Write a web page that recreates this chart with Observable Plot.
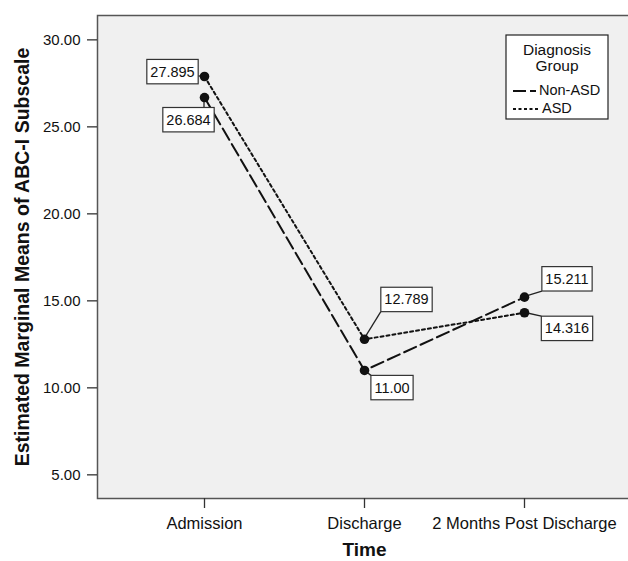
<!DOCTYPE html>
<html><head><meta charset="utf-8">
<script src="https://cdn.jsdelivr.net/npm/d3@7"></script>
<script src="https://cdn.jsdelivr.net/npm/@observablehq/plot@0.6"></script>
<style>
body{margin:0;background:#fff;}
#chart{position:relative;width:628px;height:561px;}
</style></head><body><div id="chart"></div>
<script>
const times = ["Admission", "Discharge", "2 Months Post Discharge"];
const groups = ["Non-ASD", "ASD"];
const nonAsd = [26.684, 11.00, 15.211];
const asd = [27.895, 12.789, 14.316];
const nonAsdLabels = ["26.684", "11.00", "15.211"];
const asdLabels = ["27.895", "12.789", "14.316"];
const yTicks = [5, 10, 15, 20, 25, 30];
const yDomain = [3.64, 31.40];
const legendTitle = ["Diagnosis", "Group"];

// label box offsets (px) relative to the point
const nonAsdOffsets = [[-16, 22.5], [27.5, 17.5], [42.5, -18]];
const asdOffsets = [[-32, -4.5], [42, -39.5], [42.5, 16]];

const FONT = "'Liberation Sans', Arial, sans-serif";

const data = [];
times.forEach((t, i) => {
  data.push({time: t, group: groups[0], value: nonAsd[i], label: nonAsdLabels[i], ox: nonAsdOffsets[i][0], oy: nonAsdOffsets[i][1]});
  data.push({time: t, group: groups[1], value: asd[i], label: asdLabels[i], ox: asdOffsets[i][0], oy: asdOffsets[i][1]});
});

const labelMarks = data.map((d, i) => Plot.text([d], {
  x: "time", y: "value", text: "label", dx: d.ox, dy: d.oy,
  fontSize: 14.5, fill: "#111", className: "vlabel vlabel-" + i
}));

const chart = Plot.plot({
  width: 628,
  height: 561,
  marginLeft: 97,
  marginRight: -3,
  marginTop: 15,
  marginBottom: 63,
  style: {fontFamily: FONT, fontSize: "15px", color: "#111", background: "#fff"},
  x: {type: "point", domain: times, padding: 0.66},
  y: {domain: yDomain},
  marks: [
    Plot.frame({fill: "#f0f0f0", stroke: "#555", strokeWidth: 1.5}),
    Plot.axisX({tickSize: 10, tickPadding: 9, fontSize: 16.5, label: null, stroke: "#333", strokeWidth: 1.3}),
    Plot.axisY({ticks: yTicks, tickFormat: d3.format(".2f"), tickSize: 10, tickPadding: 7, fontSize: 15, label: null, stroke: "#333", strokeWidth: 1.3}),
    Plot.line(data.filter(d => d.group === "Non-ASD"), {x: "time", y: "value", stroke: "#111", strokeWidth: 2, strokeDasharray: "13,5"}),
    Plot.line(data.filter(d => d.group === "ASD"), {x: "time", y: "value", stroke: "#111", strokeWidth: 2, strokeDasharray: "3,3"}),
    Plot.dot(data, {x: "time", y: "value", r: 4.8, fill: "#111", stroke: "none", className: "pts"}),
    ...labelMarks,
    Plot.text(["Estimated Marginal Means of ABC-I Subscale"], {frameAnchor: "left", textAnchor: "middle", rotate: -90, dx: -75, fontSize: 19.5, fontWeight: "bold", fill: "#111"}),
    Plot.text(["Time"], {frameAnchor: "bottom", lineAnchor: "middle", dy: 51, fontSize: 19, fontWeight: "bold", fill: "#111"})
  ]
});

document.getElementById("chart").appendChild(chart);

// boxes around value labels, with leader lines to points
const svg = d3.select(chart);
const sx = chart.scale("x"), sy = chart.scale("y");
const svgRect = chart.getBoundingClientRect();
const leaders = svg.insert("g", ".pts");
const boxes = svg.insert("g", ".vlabel");
data.forEach((d, i) => {
  const g = chart.querySelector(".vlabel-" + i);
  const t = g.querySelector("text");
  const b = t.getBoundingClientRect();
  const padX = 3.5, padY = 4.2;
  const x0 = b.left - svgRect.left - padX, y0 = b.top - svgRect.top - padY;
  const w = b.width + 2 * padX, h = b.height + 2 * padY;
  boxes.append("rect")
    .attr("x", x0).attr("y", y0).attr("width", w).attr("height", h)
    .attr("fill", "#fff").attr("stroke", "#333").attr("stroke-width", 1.2);
  const px = sx.apply(d.time), py = sy.apply(d.value);
  const nx = Math.max(x0, Math.min(x0 + w, px));
  const ny = Math.max(y0, Math.min(y0 + h, py));
  leaders.append("line").attr("x1", px).attr("y1", py).attr("x2", nx).attr("y2", ny)
    .attr("stroke", "#222").attr("stroke-width", 1.3);
});

// legend
const lg = svg.append("g").attr("transform", "translate(506,35)").style("font-family", FONT);
lg.append("rect").attr("width", 102).attr("height", 84).attr("fill", "#fff").attr("stroke", "#222").attr("stroke-width", 1.2);
lg.append("text").attr("x", 51).attr("y", 20).attr("text-anchor", "middle").style("font-size", "15.5px").attr("fill", "#111").text(legendTitle[0]);
lg.append("text").attr("x", 51).attr("y", 36).attr("text-anchor", "middle").style("font-size", "15.5px").attr("fill", "#111").text(legendTitle[1]);
lg.append("line").attr("x1", 7).attr("x2", 30).attr("y1", 56).attr("y2", 56).attr("stroke", "#111").attr("stroke-width", 2).attr("stroke-dasharray", "13,4");
lg.append("text").attr("x", 33).attr("y", 60).attr("text-anchor", "start").style("font-size", "14.5px").attr("fill", "#111").text(groups[0]);
lg.append("line").attr("x1", 7).attr("x2", 32).attr("y1", 74).attr("y2", 74).attr("stroke", "#111").attr("stroke-width", 2).attr("stroke-dasharray", "3,2.5");
lg.append("text").attr("x", 36).attr("y", 78).attr("text-anchor", "start").style("font-size", "14.5px").attr("fill", "#111").text(groups[1]);
</script>
</body></html>
